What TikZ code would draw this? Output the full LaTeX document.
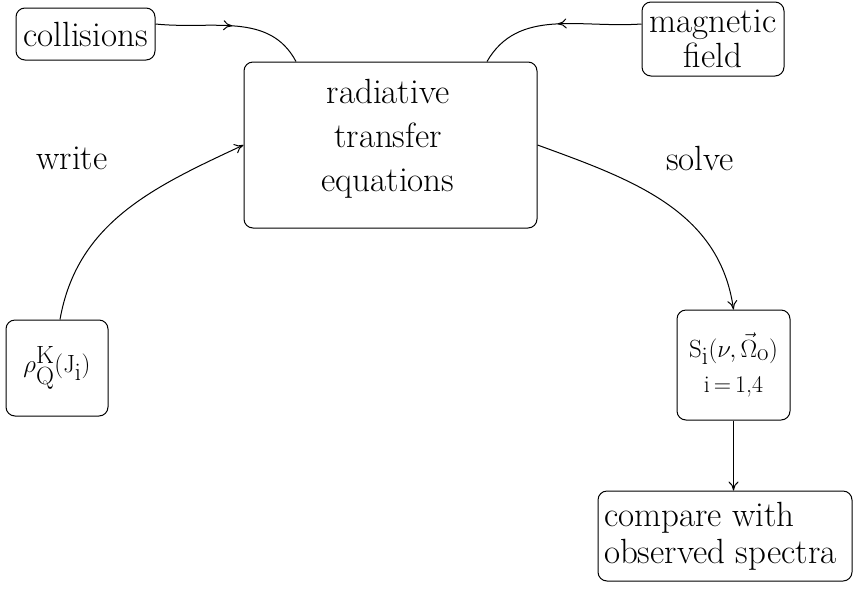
\documentclass[tikz,border=0pt]{standalone}
\usepackage{amsmath}
\usetikzlibrary{arrows.meta,decorations.markings}
\begin{document}
\begin{tikzpicture}[x=1pt,y=-1pt,
  box/.style={draw,line width=1pt,rounded corners=9pt,inner sep=0pt,align=center,font=\fontsize{35}{43}\selectfont},
  conn/.style={line width=1pt,-{To[length=9pt,width=10pt]}},
  plainconn/.style={line width=1pt},
  midarrow/.style={postaction={decorate},decoration={markings,mark=at position #1 with {\arrow{To[length=9pt,width=10pt]}}}},
  lbl/.style={font=\fontsize{35}{43}\selectfont}]
\useasboundingbox (0,0) rectangle (854,590);
\node[box,minimum width=139pt,minimum height=52pt] (col) at (85.5,34) {collisions};
\node[box,minimum width=142pt,minimum height=74pt] (mag) at (713,39) {magnetic\\[-8pt]field};
\node[box,minimum width=293pt,minimum height=166pt] (main) at (390.5,145) {};
\node[lbl,align=center] (maintxt) at (388,139) {radiative\\[1pt]transfer\\[1pt]equations};
\node[box,minimum width=102pt,minimum height=96pt,font=\fontsize{40}{48}\selectfont] (rho) at (57,368) {$\rho^{\mathrm{K}}_{\mathrm{Q}}(\mathrm{J}_{\mathrm{i}})$};
\node[box,minimum width=113pt,minimum height=110pt] (S) at (733.5,365) {$\mathrm{S}_{\mathrm{i}}(\nu,\vec{\Omega}_{\mathrm{o}})$\\[-8pt]{\fontsize{24}{28}\selectfont i\,=\,1,4}};
\node[box,minimum width=254pt,minimum height=90pt,align=flush left,text width=242pt,inner xsep=6pt] (cmp) at (725,536) {compare with\\[-6pt]observed spectra};
\node[lbl] (wlbl) at (72,158) {write};
\node[lbl] (slbl) at (700,158) {solve};
\coordinate (colout) at ([yshift=10pt]col.east);
\coordinate (magout) at ([yshift=15pt]mag.west);
\coordinate (mainl) at ([xshift=-94.5pt]main.north);
\coordinate (mainr) at ([xshift=96.5pt]main.north);
\draw[plainconn,midarrow=0.5] (colout) to[out=-6,in=118] (mainl);
\draw[plainconn,midarrow=0.5] (magout) to[out=184,in=60] (mainr);
\draw[conn] ([xshift=3pt]rho.north) to[out=80,in=205] (main.west);
\draw[conn] (main.east) to[out=-20,in=98] (S.north);
\draw[conn] (S.south) -- (cmp.north -| S.south);
\end{tikzpicture}
\end{document}
